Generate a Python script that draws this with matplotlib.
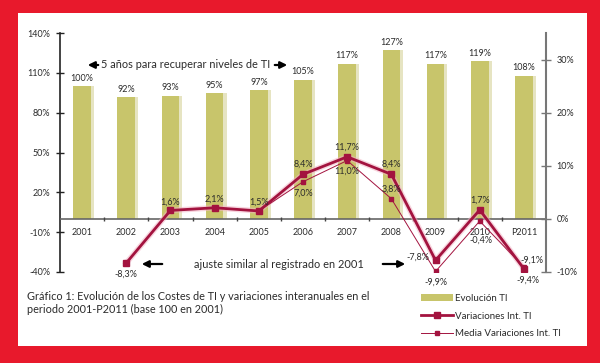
import numpy as np
import matplotlib.pyplot as plt
from matplotlib.patches import Rectangle, Patch
from matplotlib.lines import Line2D

plt.rcParams['font.family'] = ['Lato', 'DejaVu Sans']

# --------------------------------------------------
# Data
# --------------------------------------------------
years = ['2001', '2002', '2003', '2004', '2005', '2006', '2007', '2008', '2009', '2010', 'P2011']
evolucion = [100, 92, 93, 95, 97, 105, 117, 127, 117, 119, 108]          # index, base 100 in 2001
variaciones = [np.nan, -8.3, 1.6, 2.1, 1.5, 8.4, 11.7, 8.4, -7.8, 1.7, -9.4]
media = [np.nan, -8.3, 1.6, 2.1, 1.5, 7.0, 11.0, 3.8, -9.9, -0.4, -9.1]

left_ticks = [-40, -10, 20, 50, 80, 110, 140]
right_ticks = [-10, 0, 10, 20, 30]

# label offsets (points) for the line values
var_offsets = [None, (0, -8), (0, 6), (0, 6), (0, 6), (0, 7), (0, 7), (0, 7), (-13, 2), (0, 7), (3, -8)]
med_offsets = [None, None, None, None, None, (0, -8), (0, -8), (0, 7), (0, -8), (1, -14), (6, 5)]

BAR = '#C8C56B'
SHADOW = '#E6E4C2'
LINE = '#A3133F'
GLOW = '#F2B3C4'
RED = '#E8192C'
TXT = '#2b2b2b'


def pct(v):
    return f"{v:.1f}".replace('.', ',') + '%'


fig = plt.figure(figsize=(6, 3.63), dpi=100)
fig.patch.set_facecolor(RED)
fig.patches.append(Rectangle((0.03, 0.047), 0.948, 0.917, transform=fig.transFigure,
                             facecolor='white', edgecolor='none', zorder=-5))

ax = fig.add_axes([0.1, 0.2507, 0.81, 0.658])
ax.set_facecolor('none')
x = np.arange(len(years))

# bars with a soft shadow on the right
ax.bar(x + 0.07, evolucion, width=0.4, color=SHADOW, zorder=1)
ax.bar(x, evolucion, width=0.4, color=BAR, zorder=2)
for xi, v in zip(x, evolucion):
    ax.text(xi, v + 2.5, f"{v}%", ha='center', va='bottom', fontsize=6.5, color=TXT)

ax.set_xlim(-0.5, len(years) - 0.5)
ax.set_ylim(-40, 140)
ax.set_yticks(left_ticks)
ax.set_yticklabels([f"{t}%" for t in left_ticks])
ax.tick_params(axis='y', direction='inout', length=6, width=1, color='#222', labelsize=6.5,
               labelcolor=TXT, pad=4)
ax.set_xticks([])
for s in ['top', 'right', 'bottom']:
    ax.spines[s].set_visible(False)
ax.spines['left'].set_color('#222')
ax.spines['left'].set_linewidth(1.2)

# category axis at 0
ax.axhline(0, color='#666', lw=1.2, zorder=3)
ax.vlines(x[:-1] + 0.5, -1.8, 1.8, color='#444', lw=1, zorder=3)
for xi, lab in zip(x, years):
    ax.text(xi, -10, lab, ha='center', va='center', fontsize=6.5, color=TXT)

# right axis for interannual variations
ax2 = ax.twinx()
ax2.set_ylim(-10, 35)
ax2.set_yticks(right_ticks)
ax2.set_yticklabels([f"{t}%" for t in right_ticks])
ax2.tick_params(axis='y', direction='inout', length=7, width=1, color='#777', labelsize=6.5,
                labelcolor=TXT, pad=4)
for s in ['top', 'left', 'bottom']:
    ax2.spines[s].set_visible(False)
ax2.spines['right'].set_color('#777')
ax2.spines['right'].set_linewidth(1.5)

ax2.plot(x, variaciones, color=GLOW, lw=4, alpha=0.55, solid_joinstyle='round', zorder=3)
ax2.plot(x, media, color=LINE, lw=0.7, marker='s', markersize=3, zorder=4)
ax2.plot(x, variaciones, color=LINE, lw=2, marker='s', markersize=5, zorder=5)

for xi, v, off in zip(x, variaciones, var_offsets):
    if off is not None:
        ax2.annotate(pct(v), (xi, v), xytext=off, textcoords='offset points',
                     ha='center', va='center', fontsize=6.5, color=TXT, zorder=6)
for xi, v, off in zip(x, media, med_offsets):
    if off is not None:
        ax2.annotate(pct(v), (xi, v), xytext=off, textcoords='offset points',
                     ha='center', va='center', fontsize=6.5, color=TXT, zorder=6)

# annotations with arrows
arrow = dict(arrowstyle='-|>', color='black', lw=1.6, mutation_scale=10)
fig.text(186 / 600, 1 - 65 / 363, '5 años para recuperar niveles de TI', ha='center', va='center',
         fontsize=7.9, color=TXT)
fig.add_artist(plt.Annotation('', xy=(85, 363 - 65), xytext=(101, 363 - 65), xycoords='figure pixels',
                              textcoords='figure pixels', arrowprops=arrow))
fig.add_artist(plt.Annotation('', xy=(290, 363 - 65), xytext=(272, 363 - 65), xycoords='figure pixels',
                              textcoords='figure pixels', arrowprops=arrow))

fig.text(279 / 600, 1 - 264 / 363, 'ajuste similar al registrado en 2001', ha='center', va='center',
         fontsize=7.9, color=TXT)
fig.add_artist(plt.Annotation('', xy=(139, 363 - 264), xytext=(165, 363 - 264), xycoords='figure pixels',
                              textcoords='figure pixels', arrowprops=arrow))
fig.add_artist(plt.Annotation('', xy=(408, 363 - 264), xytext=(380, 363 - 264), xycoords='figure pixels',
                              textcoords='figure pixels', arrowprops=arrow))

# caption
fig.text(27 / 600, 1 - 296 / 363,
         'Gráfico 1: Evolución de los Costes de TI y variaciones interanuales en el',
         ha='left', va='center', fontsize=7.8, color=TXT)
fig.text(27 / 600, 1 - 309 / 363, 'periodo 2001-P2011 (base 100 en 2001)',
         ha='left', va='center', fontsize=7.8, color=TXT)

# legend
handles = [
    Patch(facecolor=BAR, edgecolor='none'),
    Line2D([], [], color=LINE, lw=2, marker='s', markersize=5),
    Line2D([], [], color=LINE, lw=0.7, marker='s', markersize=3),
]
labels = ['Evolución TI', 'Variaciones Int. TI', 'Media Variaciones Int. TI']
fig.legend(handles, labels, loc='upper left', bbox_to_anchor=(421 / 600, 1 - 294 / 363),
           frameon=False, fontsize=7, handlelength=3.3, handleheight=0.6, handletextpad=0.2,
           labelspacing=0.9, borderpad=0, borderaxespad=0, labelcolor=TXT)

fig.savefig('out.png', dpi=100, facecolor=fig.get_facecolor())
